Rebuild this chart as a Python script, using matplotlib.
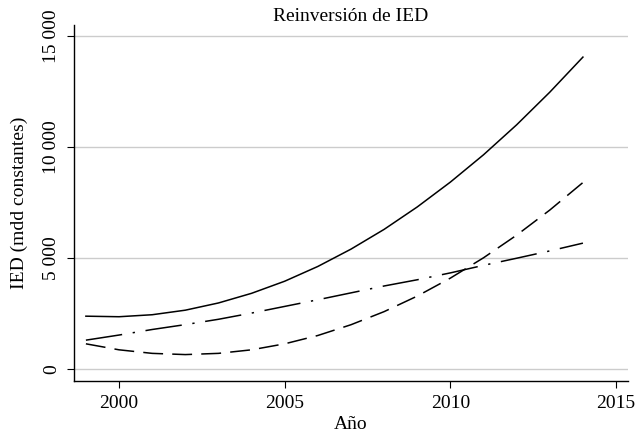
import matplotlib
matplotlib.use("Agg")
import matplotlib.pyplot as plt

plt.rcParams['font.family'] = ['Liberation Serif', 'DejaVu Serif']

years = list(range(1999, 2015))
# fitted curves (mdd constantes)
solid = [2380, 2355, 2445, 2650, 2975, 3410, 3955, 4620, 5400, 6290,
         7300, 8420, 9650, 11000, 12470, 14050]
dashdot = [1300, 1530, 1780, 2000, 2240, 2520, 2820, 3120, 3430, 3740,
           4020, 4330, 4670, 4990, 5320, 5670]
dashed = [1135, 865, 705, 650, 705, 865, 1135, 1510, 1995, 2585,
          3285, 4095, 5010, 6030, 7160, 8400]

xticks = [2000, 2005, 2010, 2015]
yticks = [0, 5000, 10000, 15000]
ytick_labels = ['0', '5 000', '10 000', '15 000']

fig = plt.figure(figsize=(6.41, 4.42), dpi=100)
ax = fig.add_axes([0.1154, 0.138, 0.8643, 0.8054])

ax.plot(years, solid, color='black', lw=1.1)
ax.plot(years, dashdot, color='black', lw=1.1, dashes=(24, 7, 1.5, 7))
ax.plot(years, dashed, color='black', lw=1.1, dashes=(13, 6))

ax.set_xlim(1998.64, 2015.36)
ax.set_ylim(-540, 15495)
ax.set_xticks(xticks)
ax.set_yticks(yticks)
ax.set_yticklabels(ytick_labels, rotation=90, va='center')
ax.grid(axis='y', color='#cccccc', lw=1.0)
ax.set_axisbelow(True)

for s in ['top', 'right']:
    ax.spines[s].set_visible(False)
for s in ['left', 'bottom']:
    ax.spines[s].set_linewidth(1.0)
ax.tick_params(axis='both', direction='out', length=5, width=0.8,
               labelsize=14, pad=5)

ax.set_title('Reinversión de IED', fontsize=14, pad=3)
ax.set_xlabel('Año', fontsize=14, labelpad=3)
ax.set_ylabel('IED (mdd constantes)', fontsize=14, labelpad=11)

fig.savefig('out.png', dpi=100)
